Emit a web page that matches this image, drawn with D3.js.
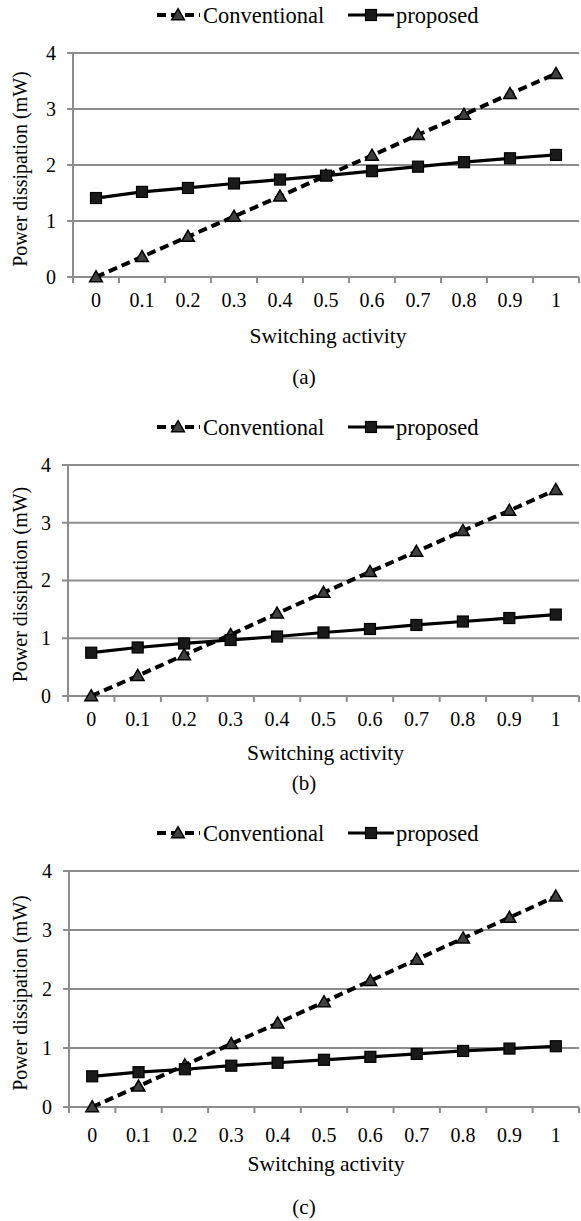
<!DOCTYPE html>
<html>
<head>
<meta charset="utf-8">
<script src="https://cdn.jsdelivr.net/npm/d3@7/dist/d3.min.js"></script>
<style>
  html, body { margin: 0; padding: 0; background: #fff; }
  svg { display: block; }
</style>
</head>
<body>
<script>
// Switching activity categories (x axis)
const categories = ["0", "0.1", "0.2", "0.3", "0.4", "0.5", "0.6", "0.7", "0.8", "0.9", "1"];
const yTicks = [0, 1, 2, 3, 4];
const seriesNames = ["Conventional", "proposed"];
const panelLabels = ["(a)", "(b)", "(c)"];

// Power dissipation (mW)
const conventionalA = [0, 0.36, 0.72, 1.08, 1.44, 1.81, 2.17, 2.54, 2.90, 3.27, 3.63];
const proposedA     = [1.41, 1.52, 1.59, 1.67, 1.74, 1.81, 1.89, 1.97, 2.05, 2.12, 2.18];
const conventionalB = [0, 0.35, 0.71, 1.06, 1.43, 1.79, 2.15, 2.50, 2.86, 3.21, 3.57];
const proposedB     = [0.75, 0.84, 0.91, 0.97, 1.03, 1.10, 1.16, 1.23, 1.29, 1.35, 1.41];
const conventionalC = [0, 0.35, 0.71, 1.07, 1.42, 1.78, 2.14, 2.50, 2.86, 3.21, 3.57];
const proposedC     = [0.52, 0.59, 0.64, 0.70, 0.75, 0.80, 0.85, 0.90, 0.95, 0.99, 1.03];

const W = 581, H = 1221;
const FONT = "Liberation Serif";
const svg = d3.select("body").append("svg").attr("width", W).attr("height", H)
  .attr("font-family", FONT);

const GRID = "#8c8c8c";

// Vertical placement of each panel's parts
const panels = [
  { conv: conventionalA, prop: proposedA, label: panelLabels[0],
    left: 73, right: 579, top: 53, bottom: 277, legendY: 15, tickY: 300, titleY: 335, capY: 377 },
  { conv: conventionalB, prop: proposedB, label: panelLabels[1],
    left: 68, right: 579, top: 465, bottom: 696, legendY: 427, tickY: 719, titleY: 752, capY: 783 },
  { conv: conventionalC, prop: proposedC, label: panelLabels[2],
    left: 69, right: 579, top: 871, bottom: 1107, legendY: 833, tickY: 1135, titleY: 1163, capY: 1207 }
];

const triangle = d3.symbol().type(d3.symbolTriangle).size(70);

function drawTriangle(g, cx, cy) {
  g.append("path").attr("d", triangle())
    .attr("transform", `translate(${cx},${cy + 1})`)
    .attr("fill", "#404040").attr("stroke", "#000").attr("stroke-width", 1.5);
}
function drawSquare(g, cx, cy) {
  const s = 11;
  g.append("rect").attr("x", cx - s / 2).attr("y", cy - s / 2)
    .attr("width", s).attr("height", s)
    .attr("fill", "#1a1a1a").attr("stroke", "#000").attr("stroke-width", 1.2);
}
function label(g, x, y, size, str, anchor) {
  return g.append("text").attr("x", x).attr("y", y).attr("dy", "0.35em")
    .attr("text-anchor", anchor || "start")
    .attr("font-family", FONT).attr("font-size", size).attr("fill", "#000")
    .text(str);
}

panels.forEach(p => {
  const g = svg.append("g");
  const x = d3.scaleBand().domain(categories).range([p.left, p.right]);
  const y = d3.scaleLinear().domain([0, 4]).range([p.bottom, p.top]);

  // horizontal gridlines, starting at the y-axis tick marks
  g.append("g").selectAll("line").data(yTicks).join("line")
    .attr("x1", p.left - 6).attr("x2", p.right)
    .attr("y1", d => y(d)).attr("y2", d => y(d))
    .attr("stroke", GRID).attr("stroke-width", 2);

  // y axis line
  g.append("line").attr("x1", p.left).attr("x2", p.left)
    .attr("y1", y(4)).attr("y2", y(0) + 6)
    .attr("stroke", GRID).attr("stroke-width", 2);

  // x tick marks between categories
  const bounds = d3.range(categories.length + 1).map(i => p.left + i * x.step());
  g.append("g").selectAll("line").data(bounds).join("line")
    .attr("x1", d => d).attr("x2", d => d)
    .attr("y1", y(0)).attr("y2", y(0) + 6)
    .attr("stroke", GRID).attr("stroke-width", 2);

  // y tick labels
  const yAxis = d3.axisLeft(y).tickValues(yTicks).tickSize(0).tickPadding(17).tickFormat(d3.format("d"));
  const ya = g.append("g").attr("transform", `translate(${p.left},0)`).call(yAxis)
    .attr("font-family", FONT).attr("font-size", 20);
  ya.select(".domain").remove();
  ya.selectAll("text").attr("fill", "#000");

  // x tick labels
  const xAxis = d3.axisBottom(x).tickSize(0).tickPadding(0);
  const xa = g.append("g").attr("transform", `translate(0,${p.tickY})`).call(xAxis)
    .attr("font-family", FONT).attr("font-size", 20);
  xa.select(".domain").remove();
  xa.selectAll("text").attr("fill", "#000").attr("dy", "0.35em").attr("y", 0);

  // axis titles
  label(g, (p.left + p.right) / 2 + 2, p.titleY, 21.5, "Switching activity", "middle");
  g.append("text")
    .attr("transform", `translate(20,${(p.top + p.bottom) / 2 + 4}) rotate(-90)`)
    .attr("dy", "0.35em").attr("text-anchor", "middle")
    .attr("font-family", FONT).attr("font-size", 20)
    .text("Power dissipation (mW)");

  // panel caption
  label(g, 304, p.capY, 21, p.label, "middle");

  const cx = c => x(c) + x.bandwidth() / 2;
  const line = d3.line().x((d, i) => cx(categories[i])).y(d => y(d));

  // conventional: dashed line with triangles
  g.append("path").datum(p.conv).attr("d", line)
    .attr("fill", "none").attr("stroke", "#000").attr("stroke-width", 4)
    .attr("stroke-dasharray", "9,5");
  p.conv.forEach((v, i) => drawTriangle(g, cx(categories[i]), y(v)));

  // proposed: solid line with squares
  g.append("path").datum(p.prop).attr("d", line)
    .attr("fill", "none").attr("stroke", "#000").attr("stroke-width", 3.2);
  p.prop.forEach((v, i) => drawSquare(g, cx(categories[i]), y(v)));

  // legend
  const L = g.append("g");
  const ly = p.legendY;
  L.append("line").attr("x1", 157).attr("x2", 200).attr("y1", ly).attr("y2", ly)
    .attr("stroke", "#000").attr("stroke-width", 4).attr("stroke-dasharray", "9,5");
  drawTriangle(L, 178, ly);
  label(L, 203, ly, 22.5, seriesNames[0]);
  L.append("line").attr("x1", 348).attr("x2", 394).attr("y1", ly).attr("y2", ly)
    .attr("stroke", "#000").attr("stroke-width", 3.2);
  drawSquare(L, 371, ly);
  label(L, 396, ly, 22.5, seriesNames[1]);
});
</script>
</body>
</html>
